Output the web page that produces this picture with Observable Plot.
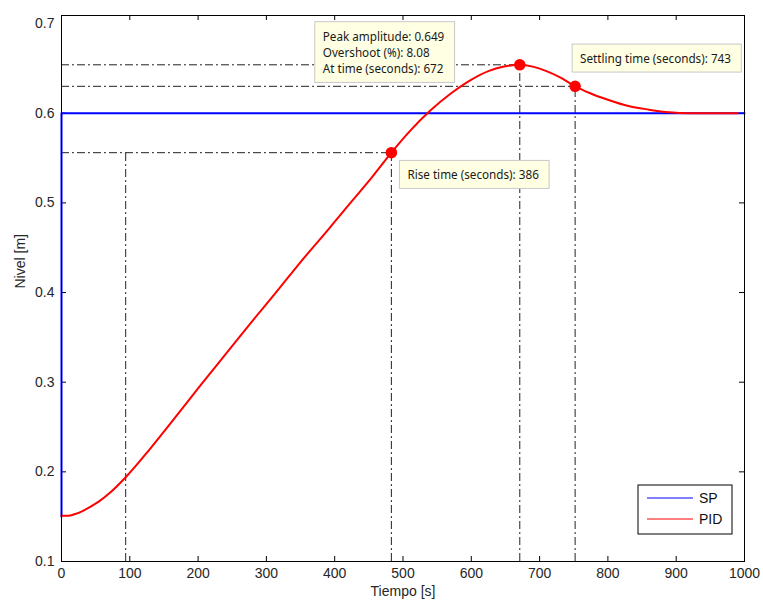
<!DOCTYPE html>
<html><head><meta charset="utf-8">
<script src="https://cdn.jsdelivr.net/npm/d3@7"></script>
<script src="https://cdn.jsdelivr.net/npm/@observablehq/plot@0.6"></script>
<style>body{margin:0;background:#fff} #chart{width:763px;height:604px}</style>
</head><body><div id="chart"></div>
<script>
// ---- data ----
const time = [0, 10, 20, 30, 42, 55, 70, 94, 130, 170, 204, 240, 277, 315, 350, 388, 423, 455, 483, 510, 540, 570, 599, 625, 648, 671, 690, 710, 730, 752, 775, 800, 830, 860, 890, 920, 950, 990];
const pid  = [0.151, 0.151, 0.153, 0.156, 0.161, 0.167, 0.176, 0.194, 0.226, 0.264, 0.297, 0.331, 0.366, 0.401, 0.434, 0.468, 0.500, 0.529, 0.556, 0.580, 0.603, 0.622, 0.637, 0.647, 0.652, 0.654, 0.652, 0.647, 0.640, 0.630, 0.622, 0.615, 0.608, 0.604, 0.601, 0.600, 0.600, 0.600];
const spTime  = [0, 0, 1000];
const spValue = [0.15, 0.6, 0.6];
const xTicks = [0, 100, 200, 300, 400, 500, 600, 700, 800, 900, 1000];
const yTicks = [0.1, 0.2, 0.3, 0.4, 0.5, 0.6, 0.7];
const riseStart = {t: 94, v: 0.195};
const rise     = {t: 483, v: 0.556, label: "Rise time (seconds): 386"};
const peak     = {t: 671, v: 0.654, label: "Peak amplitude: 0.649\nOvershoot (%): 8.08\nAt time (seconds): 672"};
const settling = {t: 752, v: 0.630, label: "Settling time (seconds): 743"};
const legendNames = ["SP", "PID"];
const legendColors = ["#0000ff", "#ff0000"];

// ---- layout ----
const W = 763, H = 604, mL = 61, mR = 19, mT = 15, mB = 43;
const ph = H - mT - mB, pw = W - mL - mR;
const dashDot = "8,3,2,3";
const guide = {stroke: "#222", strokeWidth: 1, strokeDasharray: dashDot};
const tipFont = {fontFamily: "Noto Sans, Open Sans, sans-serif", fontSize: 11.7, fill: "#1a1a1a", textAnchor: "start"};

const pidData = time.map((t, i) => ({t, v: pid[i]}));
const spData = spTime.map((t, i) => ({t, v: spValue[i]}));
const pts = [rise, peak, settling];

const plot = Plot.plot({
  width: W, height: H, marginLeft: mL, marginRight: mR, marginTop: mT, marginBottom: mB,
  x: {domain: [0, 1000]},
  y: {domain: [0.1, 0.709]},
  style: {fontFamily: "'Liberation Sans', Arial, sans-serif", fontSize: "14px", color: "#262626", background: "#fff"},
  marks: [
    Plot.axisX(xTicks, {tickSize: 0, tickPadding: 7, tickFormat: d => String(d), label: null, fontSize: 14}),
    Plot.axisY(yTicks, {tickSize: 0, tickPadding: 7, tickFormat: d => d.toFixed(1), label: null, fontSize: 14}),
    Plot.ruleX(xTicks.slice(1, -1), {x: d => d, insetTop: ph - 5, stroke: "#000"}),
    Plot.ruleX(xTicks.slice(1, -1), {x: d => d, insetBottom: ph - 5, stroke: "#000"}),
    Plot.ruleY(yTicks.slice(1, -1), {y: d => d, insetRight: pw - 5, stroke: "#000"}),
    Plot.ruleY(yTicks.slice(1, -1), {y: d => d, insetLeft: pw - 5, stroke: "#000"}),
    Plot.text(["Tiempo [s]"], {frameAnchor: "bottom", dy: 34, fontSize: 14, fill: "#262626"}),
    Plot.text(["Nivel [m]"], {frameAnchor: "left", rotate: -90, dx: -41, fontSize: 14, fill: "#262626"}),
    // guide lines
    Plot.ruleY(pts, {y: "v", x1: 0, x2: "t", ...guide}),
    Plot.ruleX(pts, {x: "t", y1: 0.1, y2: "v", ...guide}),
    Plot.ruleX([riseStart], {x: "t", y1: 0.1, y2: rise.v, ...guide}),
    // series
    Plot.line(spData, {x: "t", y: "v", stroke: "#0000ff", strokeWidth: 2}),
    Plot.line(pidData, {x: "t", y: "v", stroke: "#ff0000", strokeWidth: 2, curve: "monotone-x"}),
    Plot.dot(pts, {x: "t", y: "v", r: 5, fill: "#ff0000", stroke: "#ff0000"}),
    // datatips
    Plot.text([peak], {x: "t", y: "v", text: "label", dx: -197, dy: -13, lineAnchor: "middle", lineHeight: 1.4, className: "tip", ...tipFont}),
    Plot.text([rise], {x: "t", y: "v", text: "label", dx: 16, dy: 23, lineAnchor: "middle", className: "tip", ...tipFont}),
    Plot.text([settling], {x: "t", y: "v", text: "label", dx: 5, dy: -27, lineAnchor: "middle", className: "tip", ...tipFont}),
    Plot.frame({stroke: "#000", strokeWidth: 1})
  ]
});
document.getElementById("chart").appendChild(plot);

// boxes behind datatips
const svg = d3.select(plot.tagName.toLowerCase() === "svg" ? plot : plot.querySelector("svg"));
svg.selectAll("g.tip text").each(function() {
  const b = this.getBBox();
  const r = d3.select(this.parentNode).insert("rect", () => this)
    .attr("x", b.x - 8).attr("y", b.y - 6).attr("width", b.width + 18).attr("height", b.height + 12)
    .attr("fill", "#ffffe4").attr("stroke", "#c8c8c8").attr("stroke-width", 1);
  const tr = this.getAttribute("transform");
  if (tr) r.attr("transform", tr);
});

// legend
const lg = svg.append("g").attr("font-family", "'Liberation Sans', Arial, sans-serif").attr("font-size", 14).attr("text-anchor", "start");
lg.append("rect").attr("x", 638).attr("y", 485).attr("width", 94).attr("height", 49)
  .attr("fill", "#fff").attr("stroke", "#000");
legendNames.forEach((n, i) => {
  const y = 498 + i * 21;
  lg.append("line").attr("x1", 647).attr("x2", 693).attr("y1", y).attr("y2", y).attr("stroke", legendColors[i]).attr("stroke-width", 1);
  lg.append("text").attr("x", 699).attr("y", y).attr("dy", "0.35em").attr("fill", "#111").text(n);
});
</script></body></html>
